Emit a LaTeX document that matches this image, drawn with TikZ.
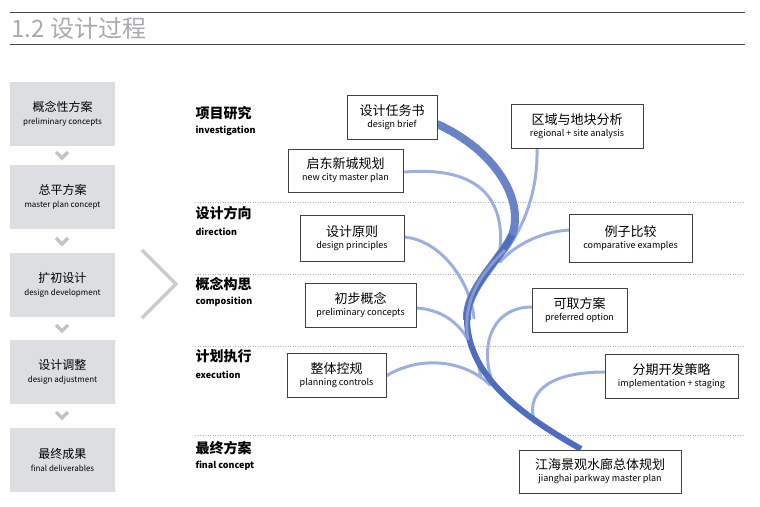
\documentclass[tikz,border=0pt]{standalone}
\usepackage{fontspec}
\setmainfont{Noto Sans CJK SC}
\usetikzlibrary{calc}
\definecolor{trunk}{HTML}{4F6DBE}
\definecolor{branch}{HTML}{9CB0E0}
\definecolor{lbox}{HTML}{DCDEE1}
\definecolor{tgray}{HTML}{A8AAAD}
\begin{document}
\begin{tikzpicture}[x=1pt,y=-1pt,
 box/.style={draw=black!75,line width=0.8pt,fill=white,inner sep=0pt},
 lb/.style={fill=lbox,inner sep=0pt,minimum width=105pt,minimum height=64pt,align=center},
 cn/.style={font=\fontsize{13}{14}\selectfont},
 en/.style={font=\fontsize{9}{10}\selectfont},
 br/.style={draw=branch,line width=3pt,line cap=round},
 stage/.style={anchor=west,font=\fontsize{14}{15}\selectfont\bfseries},
 stagee/.style={anchor=west,font=\fontsize{9}{10}\selectfont\bfseries},
 chev/.style={draw=tgray,line width=3pt},
 dots/.style={draw=black!30,line width=0.6pt,dash pattern=on 1pt off 1.5pt}]
\useasboundingbox (0,0) rectangle (760,506);
% title
\draw[black!70,line width=0.8pt] (10,12) -- (745,12);
\draw[black!70,line width=0.8pt] (10,44) -- (745,44);
\node[anchor=west,text=tgray,font=\fontsize{24}{26}\selectfont] (title) at (8,28) {1.2 设计过程};
% left column
\foreach \n/\y/\c/\e in {l1/114/概念性方案/preliminary concepts,l2/197/总平方案/master plan concept,l3/285/扩初设计/design development,l4/372/设计调整/design adjustment,l5/460/最终成果/final deliverables}{
 \node[lb] (\n) at (62.5,\y) {\fontsize{12}{14}\selectfont \c\\[1pt]\fontsize{8}{9}\selectfont \e};
}
\foreach \y in {155,241,328,415}{
 \draw[draw=tgray!70,line width=3.5pt] (56,\y-3) -- (62,\y+3) -- (68,\y-3);
}
\draw[draw=black!20,line width=3.5pt] (142,250) -- (176,284) -- (142,318);
% stages
\node[stage] (s1) at (192,113) {项目研究};
\node[stagee] (s1e) at (192,131) {investigation};
\node[stage] (s2) at (192,213) {设计方向};
\node[stagee] (s2e) at (192,232) {direction};
\node[stage] (s3) at (192,284) {概念构思};
\node[stagee] (s3e) at (192,302) {composition};
\node[stage] (s4) at (192,356) {计划执行};
\node[stagee] (s4e) at (192,375) {execution};
\node[stage] (s5) at (192,448) {最终方案};
\node[stagee] (s5e) at (192,466) {final concept};
\foreach \y in {202,274,346,435} \draw[dots] (195,\y) -- (745,\y);
% branches
\draw[br] (405,172) .. controls (480,166) and (505,200) .. (500,250);
\draw[br] (537,148) .. controls (538,190) and (525,225) .. (505,252);
\draw[br] (404,237) .. controls (440,240) and (470,280) .. (474,318);
\draw[br] (569,230) .. controls (540,232) and (515,245) .. (500,262);
\draw[br] (416,308) .. controls (455,310) and (475,340) .. (481,378);
\draw[br] (532,307) .. controls (495,307) and (480,340) .. (491,378);
\draw[br] (386,376) .. controls (420,355) and (465,360) .. (490,385);
\draw[br] (605,372) .. controls (545,372) and (525,395) .. (535,423);
% trunk
\draw[trunk!85,line width=8pt] (437,124) .. controls (495,150) and (525,200) .. (512,235)
 .. controls (500,260) and (465,290) .. (467,320);
\draw[trunk,line width=6pt] (512,235) .. controls (500,260) and (465,290) .. (467,320)
 .. controls (468,380) and (530,420) .. (581,449);
\draw[trunk!70,line width=3pt] (505,250) .. controls (480,275) and (462,300) .. (468,340);
% boxes
\node[box,minimum width=90pt,minimum height=44pt,align=center] (b1) at (392,117) {\fontsize{13}{15}\selectfont 设计任务书\\\fontsize{9}{11}\selectfont design brief};
\node[box,minimum width=115pt,minimum height=43pt,align=center] (b2) at (345.5,170.5) {\fontsize{13}{15}\selectfont 启东新城规划\\\fontsize{9}{11}\selectfont new city master plan};
\node[box,minimum width=132pt,minimum height=44pt,align=center] (b3) at (577,126) {\fontsize{13}{15}\selectfont 区域与地块分析\\\fontsize{9}{11}\selectfont regional + site analysis};
\node[box,minimum width=104pt,minimum height=46pt,align=center] (b4) at (352,238) {\fontsize{13}{15}\selectfont 设计原则\\\fontsize{9}{11}\selectfont design principles};
\node[box,minimum width=123pt,minimum height=48pt,align=center] (b5) at (630.5,238) {\fontsize{13}{15}\selectfont 例子比较\\\fontsize{9}{11}\selectfont comparative examples};
\node[box,minimum width=111pt,minimum height=44pt,align=center] (b6) at (360.5,305) {\fontsize{13}{15}\selectfont 初步概念\\\fontsize{9}{11}\selectfont preliminary concepts};
\node[box,minimum width=95pt,minimum height=44pt,align=center] (b7) at (579.5,310) {\fontsize{13}{15}\selectfont 可取方案\\\fontsize{9}{11}\selectfont preferred option};
\node[box,minimum width=99pt,minimum height=44pt,align=center] (b8) at (336.5,375) {\fontsize{13}{15}\selectfont 整体控规\\\fontsize{9}{11}\selectfont planning controls};
\node[box,minimum width=133pt,minimum height=44pt,align=center] (b9) at (671.5,376) {\fontsize{13}{15}\selectfont 分期开发策略\\\fontsize{9}{11}\selectfont implementation + staging};
\node[box,minimum width=162pt,minimum height=43pt,align=center] (b10) at (600,471.5) {\fontsize{13}{15}\selectfont 江海景观水廊总体规划\\\fontsize{9}{11}\selectfont jianghai parkway master plan};
\end{tikzpicture}
\end{document}
